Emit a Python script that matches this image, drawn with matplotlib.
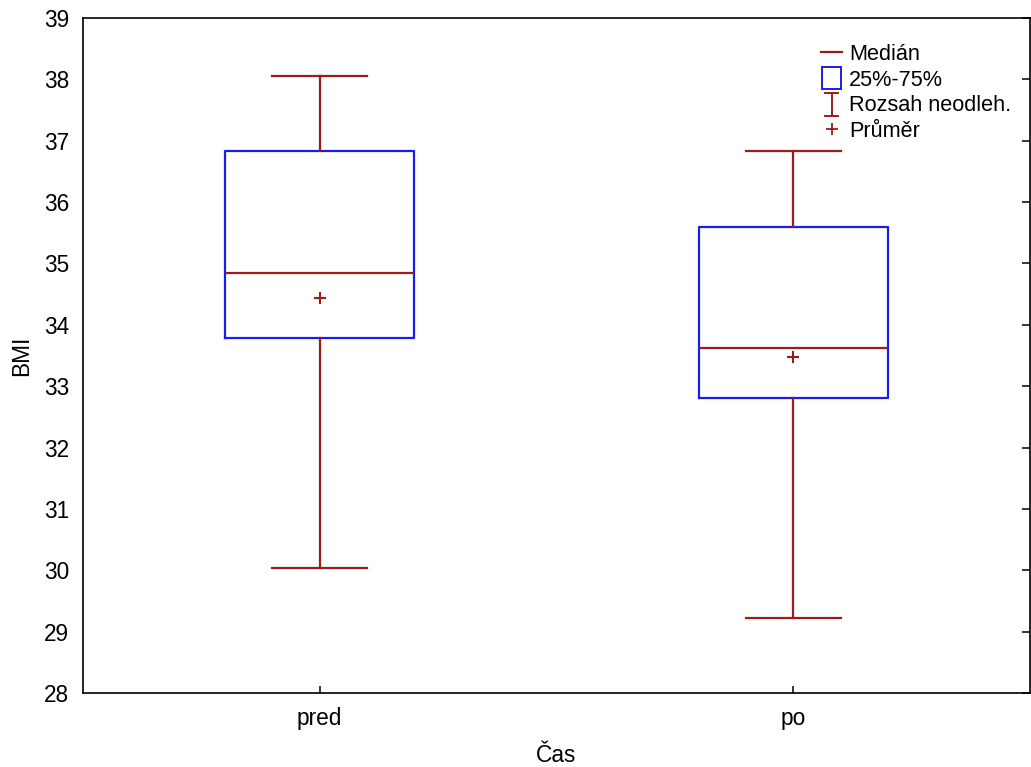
import matplotlib
matplotlib.use("Agg")
import matplotlib.pyplot as plt
from matplotlib.lines import Line2D
from matplotlib.patches import Rectangle
from matplotlib.legend_handler import HandlerBase

plt.rcParams['font.family'] = ['Liberation Sans', 'DejaVu Sans']

categories = ["pred", "po"]
medians = [34.84, 33.63]
q1 = [33.78, 32.80]
q3 = [36.83, 35.60]
whislo = [30.04, 29.22]
whishi = [38.06, 36.83]
means = [34.43, 33.47]

RED = "#9e1b1b"
BLUE = "#1c1ce8"
FS = 16.3

fig = plt.figure(figsize=(10.31, 7.67), dpi=100)
ax = fig.add_axes([83/1031, 1 - 693/767, 947/1031, 675/767])

stats = []
for i, c in enumerate(categories):
    stats.append(dict(label=c, med=medians[i], q1=q1[i], q3=q3[i],
                      whislo=whislo[i], whishi=whishi[i], mean=means[i]))

ax.bxp(stats, positions=[1, 2], widths=0.4, showmeans=True, showfliers=False,
       boxprops=dict(color=BLUE, linewidth=1.6),
       medianprops=dict(color=RED, linewidth=1.6),
       whiskerprops=dict(color=RED, linewidth=1.6),
       capprops=dict(color=RED, linewidth=1.6),
       capwidths=0.2,
       meanprops=dict(marker='+', markeredgecolor=RED, markersize=9, markeredgewidth=1.5))

ax.set_xlim(0.5, 2.5)
ax.set_ylim(28, 39)
ax.set_yticks(range(28, 40))
ax.set_xticks([1, 2])
ax.set_xticklabels(categories)

ax.tick_params(axis='y', which='both', left=False, right=True, labelleft=True,
               direction='in', length=6, width=1.1, labelsize=FS, pad=10)
ax.tick_params(axis='x', which='both', bottom=True, top=False, direction='in',
               length=5, width=1.1, labelsize=FS, pad=10)
for s in ax.spines.values():
    s.set_linewidth(1.2)

ax.set_ylabel("BMI", fontsize=FS, labelpad=8)
ax.set_xlabel("Čas", fontsize=FS, labelpad=10)


class WhiskerHandler(HandlerBase):
    def create_artists(self, legend, orig_handle, xdescent, ydescent, width, height, fontsize, trans):
        cx = width / 2 - xdescent
        top = height * 1.2 - ydescent
        bot = -height * 0.3 - ydescent
        half = width * 0.3
        arts = [
            Line2D([cx, cx], [bot, top], color=RED, lw=1.4),
            Line2D([cx - half, cx + half], [top, top], color=RED, lw=1.4),
            Line2D([cx - half, cx + half], [bot, bot], color=RED, lw=1.4),
        ]
        for a in arts:
            a.set_transform(trans)
        return arts


class BoxHandler(HandlerBase):
    def create_artists(self, legend, orig_handle, xdescent, ydescent, width, height, fontsize, trans):
        w = width * 0.85
        h = height * 1.4
        x0 = (width - w) / 2 - xdescent
        y0 = (height - h) / 2 - ydescent
        r = Rectangle((x0, y0), w, h, facecolor='none', edgecolor=BLUE, lw=1.4, transform=trans)
        return [r]


h_med = Line2D([], [], color=RED, lw=1.6)
h_box = Rectangle((0, 0), 1, 1)
h_whisk = Line2D([], [])
h_mean = Line2D([], [], color=RED, marker='+', linestyle='none', markersize=9, markeredgewidth=1.3)

leg = ax.legend([h_med, h_box, h_whisk, h_mean],
                ["Medián", "25%-75%", "Rozsah neodleh.", "Průměr"],
                handler_map={h_box: BoxHandler(), h_whisk: WhiskerHandler()},
                loc='upper left', bbox_to_anchor=(0.763, 0.984), frameon=False,
                fontsize=15.6, handlelength=1.0, handletextpad=0.3,
                labelspacing=0.21, borderpad=0.2)

fig.savefig("out.png", dpi=100)
